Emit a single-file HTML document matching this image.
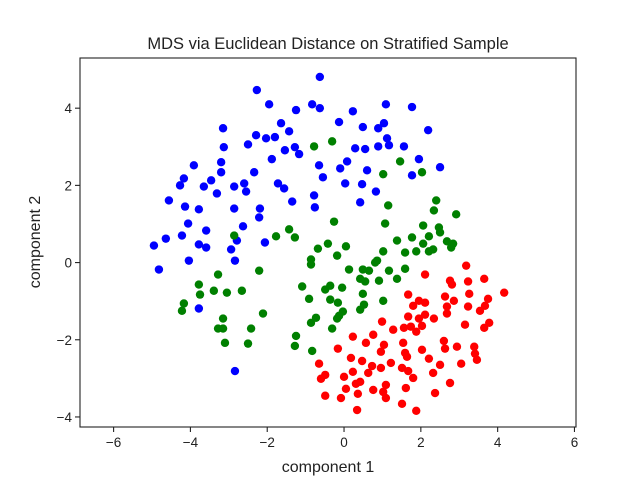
<!DOCTYPE html>
<html><head><meta charset="utf-8"><style>
body{margin:0;background:#fff}
svg{display:block;font-family:"Liberation Sans","DejaVu Sans",sans-serif}
</style></head><body>
<svg id="chart" width="640" height="480" viewBox="0 0 640 480" xmlns="http://www.w3.org/2000/svg">
<rect width="640" height="480" fill="#fff"/>
<text x="328" y="49" font-size="16.5" text-anchor="middle" fill="#222">MDS via Euclidean Distance on Stratified Sample</text>
<g id="marks"></g>
<g id="axes"></g>
<text x="328" y="472" font-size="16" text-anchor="middle" fill="#222">component 1</text>
<text transform="translate(40,242) rotate(-90)" font-size="16" text-anchor="middle" fill="#222">component 2</text>
</svg>
<script>
const xTicks=[-6,-4,-2,0,2,4,6];
const yTicks=[-4,-2,0,2,4];
const blueX=[-0.63,-2.27,-1.95,-1.25,-0.83,-0.63,-3.15,-1.64,-1.43,-0.13,-2.29,-2.03,-1.80,-2.50,-3.13,-1.54,-1.28,-1.17,-1.88,-0.65,-0.55,-0.10,0.03,0.08,-3.91,-3.20,-3.20,-2.34,-4.17,-4.27,-3.46,-3.65,-3.31,-2.86,-2.60,-2.55,-1.72,-1.56,-4.56,-4.14,-3.78,-2.86,-2.19,-2.21,-1.35,-0.78,-0.76,-4.06,-3.59,-2.63,-4.64,-4.22,-4.95,-3.78,-3.59,-2.79,-2.94,-2.06,-4.04,-2.84,-4.82,-2.84,-3.78,0.23,1.09,1.77,0.49,0.89,1.04,2.19,1.12,1.17,0.89,0.29,0.55,1.56,1.95,2.50,1.77,0.60,0.47,0.83,0.42];
const blueY=[4.81,4.47,4.10,3.95,4.10,4.00,3.48,3.61,3.40,3.64,3.30,3.22,3.25,3.06,2.99,2.91,2.99,2.81,2.68,2.52,2.21,2.44,2.05,2.62,2.52,2.60,2.34,2.34,2.18,2.00,2.13,1.97,1.79,1.97,2.05,1.84,2.05,1.92,1.61,1.45,1.38,1.40,1.40,1.17,1.58,1.74,1.43,1.01,0.83,0.94,0.62,0.70,0.44,0.47,0.39,0.57,0.34,0.52,0.05,0.05,-0.18,-2.81,-1.19,3.92,4.10,4.03,3.51,3.48,3.61,3.43,3.22,3.04,3.01,2.96,2.94,3.01,2.68,2.47,2.26,2.39,2.03,1.84,1.56];
const greenX=[-0.78,-0.31,1.46,2.03,1.02,1.15,1.07,-0.26,2.40,2.34,2.92,2.06,2.47,2.50,-1.43,-1.28,-0.42,-0.68,0.05,-0.18,1.38,1.77,2.21,2.06,2.21,2.32,2.68,2.84,2.79,1.59,1.88,1.02,-0.86,-0.86,0.13,0.49,0.65,0.86,0.81,1.17,1.59,-1.77,-2.86,-3.28,-2.21,-3.78,-3.75,-3.39,-3.05,-2.66,-4.17,-4.22,-1.09,-0.91,-0.49,-0.36,-0.05,-0.36,-0.16,-0.03,-0.13,-0.18,-0.73,-0.86,-0.31,-3.15,-3.28,-3.15,-2.42,-2.11,-3.10,-2.50,-1.25,-1.28,-0.83,0.42,0.55,0.91,1.38,0.49,1.02,0.52,0.42];
const greenY=[3.01,3.14,2.62,2.34,2.29,1.48,1.01,1.06,1.61,1.35,1.25,0.96,0.91,0.78,0.86,0.65,0.49,0.36,0.42,0.18,0.57,0.65,0.68,0.49,0.29,0.34,0.55,0.49,0.39,0.26,0.29,0.29,0.08,-0.05,-0.18,-0.18,-0.21,0.05,0,-0.21,-0.16,0.68,0.70,-0.31,-0.21,-0.57,-0.83,-0.73,-0.78,-0.73,-1.06,-1.25,-0.62,-0.94,-0.70,-0.60,-0.65,-0.96,-1.04,-1.27,-1.38,-1.45,-1.43,-1.56,-1.71,-1.45,-1.71,-1.71,-1.71,-1.32,-2.08,-2.10,-1.90,-2.16,-2.29,-0.42,-0.49,-0.47,-0.42,-0.81,-0.99,-1.09,-1.22];
const redX=[3.18,2.11,2.76,2.81,3.23,3.65,1.67,2.63,2.86,3.26,3.75,1.95,2.11,1.80,2.68,2.68,3.23,3.67,3.54,1.67,1.95,2.11,2.34,0.99,1.56,1.74,2.03,1.88,1.28,3.15,3.78,3.65,0.76,0.23,0.57,1.04,0.96,1.54,2.60,2.63,2.94,3.39,3.41,3.46,-0.16,1.59,1.64,2.03,2.21,2.50,3.05,-0.65,0.18,0.47,1.22,0.73,0.63,0.96,1.51,1.67,1.80,-0.49,-0.60,0,0.23,2.32,0.42,0.31,0.05,1.09,1.02,1.09,0.76,1.61,2.37,2.76,-0.49,-0.08,0.36,1.51,0.34,1.88,4.17];
const redY=[-0.08,-0.31,-0.47,-0.57,-0.49,-0.42,-0.83,-0.88,-0.99,-0.81,-0.94,-0.99,-1.04,-1.12,-1.14,-1.32,-1.14,-1.12,-1.25,-1.40,-1.45,-1.35,-1.45,-1.53,-1.69,-1.66,-1.64,-1.79,-1.74,-1.61,-1.56,-1.69,-1.87,-1.92,-2.08,-2.13,-2.31,-2.08,-2.03,-2.23,-2.18,-2.18,-2.36,-2.52,-2.23,-2.34,-2.44,-2.26,-2.49,-2.65,-2.62,-2.62,-2.47,-2.55,-2.60,-2.68,-2.86,-2.73,-2.73,-2.81,-2.99,-2.91,-3.01,-2.96,-2.83,-2.86,-3.09,-3.14,-3.27,-3.17,-3.35,-3.51,-3.30,-3.25,-3.38,-3.12,-3.45,-3.51,-3.40,-3.66,-3.82,-3.84,-0.78];

const L=80,R=576,T=58,B=427;
const xMin=-6.875,xMax=6.04,yMin=-4.26,yMax=5.3;
const sx=v=>L+(v-xMin)/(xMax-xMin)*(R-L);
const sy=v=>B-(v-yMin)/(yMax-yMin)*(B-T);
const NS='http://www.w3.org/2000/svg';
const marks=document.getElementById('marks');
function series(xs,ys,color,name){
  const g=document.createElementNS(NS,'g');
  
  
  for(let i=0;i<xs.length;i++){
    const c=document.createElementNS(NS,'circle');
    c.setAttribute('cx',sx(xs[i]));c.setAttribute('cy',sy(ys[i]));
    c.setAttribute('r',4.2);c.setAttribute('fill',color);
    
    
    g.appendChild(c);
  }
  marks.appendChild(g);
}
series(blueX,blueY,'#0000ff','blue-cluster');
series(greenX,greenY,'#008000','green-cluster');
series(redX,redY,'#ff0000','red-cluster');

const axes=document.getElementById('axes');
const fr=document.createElementNS(NS,'rect');
fr.setAttribute('x',L);fr.setAttribute('y',T);fr.setAttribute('width',R-L);fr.setAttribute('height',B-T);
fr.setAttribute('fill','none');fr.setAttribute('stroke','#222');fr.setAttribute('stroke-width','1.1');


axes.appendChild(fr);
xTicks.forEach(t=>{
  const x=sx(t);
  const ln=document.createElementNS(NS,'line');
  ln.setAttribute('x1',x);ln.setAttribute('x2',x);ln.setAttribute('y1',B);ln.setAttribute('y2',B+5);
  ln.setAttribute('stroke','#222');ln.setAttribute('stroke-width','1.1');
  
  
  axes.appendChild(ln);
  const tx=document.createElementNS(NS,'text');
  tx.setAttribute('x',x);tx.setAttribute('y',B+20);tx.setAttribute('font-size','13.5');
  tx.setAttribute('text-anchor','middle');tx.setAttribute('fill','#222');
  tx.textContent=(t<0?'\u2212':'')+Math.abs(t);
  
  
  axes.appendChild(tx);
});
yTicks.forEach(t=>{
  const y=sy(t);
  const ln=document.createElementNS(NS,'line');
  ln.setAttribute('x1',L-5);ln.setAttribute('x2',L);ln.setAttribute('y1',y);ln.setAttribute('y2',y);
  ln.setAttribute('stroke','#222');ln.setAttribute('stroke-width','1.1');
  
  
  axes.appendChild(ln);
  const tx=document.createElementNS(NS,'text');
  tx.setAttribute('x',L-8);tx.setAttribute('y',y+5);tx.setAttribute('font-size','13.5');
  tx.setAttribute('text-anchor','end');tx.setAttribute('fill','#222');
  tx.textContent=(t<0?'\u2212':'')+Math.abs(t);
  
  
  axes.appendChild(tx);
});
</script>
</body></html>
